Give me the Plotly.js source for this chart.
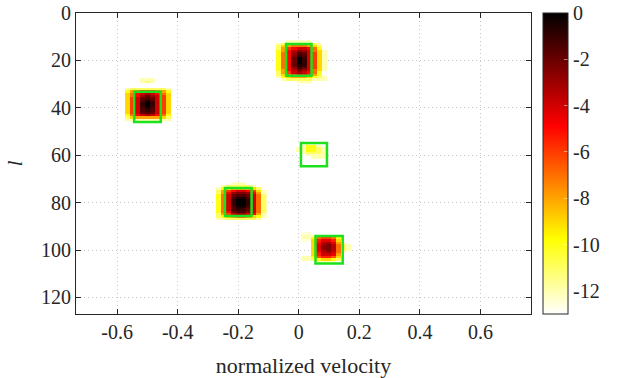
<!DOCTYPE html>
<html>
<head>
<meta charset="utf-8">
<script src="https://cdn.plot.ly/plotly-3.0.1.min.js"></script>
<style>html,body{margin:0;padding:0;background:#fff;}#chart{width:617px;height:378px;}</style>
</head>
<body>
<div id="chart"></div>
<script>
const NA = null;
// velocity bin width of the image
const dx = 1 / 60;
// blob centres (normalized velocity), first row (range bin l), first column offset
const blobX = [0, -0.5, 0.05, -0.2, 0.1];
const blobRow0 = [12, 28, 55, 72, 92];
const blobCol0 = [-5, -5, -4, -5, -5];

// image values in dB, rows = l, columns = velocity bins
const blob1 = [
  [NA,NA,-13,-12,-12,-12,-12,-12,-13,NA,NA],
  [NA,-12,-11,-10,-10,-10,-10,-10,-11,-12,NA],
  [NA,-11,-9,-8,-7,-7,-7,-8,-9,-11,NA],
  [NA,-11,-8,-6,-5,-4,-4,-5,-7,-10,-13],
  [NA,-10,-8,-5,-3.5,-2.5,-3,-4,-7,-9,-12],
  [NA,-10,-7,-5,-3,-1.5,-2,-4,-6,-9,-12],
  [NA,-10,-7,-5,-2.5,-1,-1.5,-4,-6,-9,-12],
  [NA,-10,-7,-5,-2,0,-1,-4,-6,-9,-12],
  [NA,-10,-7,-5,-2,0,-1,-4,-6,-9,-12],
  [NA,-10,-7,-5,-2,0,-1,-4,-6,-9,-12],
  [NA,-10,-7,-5,-2,-0.5,-1,-4,-6,-9,-12],
  [NA,-10,-7,-5,-3,-1,-2,-4,-6,-9,-12],
  [NA,-10,-8,-5,-3.5,-2,-3,-4,-7,-9,-12],
  [NA,-11,-8,-6,-4,-3,-4,-5,-7,-10,-13],
  [NA,-11,-9,-7,-6,-5,-5,-6,-8,-10,-13],
  [NA,-12,-10,-9,-8,-8,-8,-9,-10,-11,-12],
  [NA,-13,-12,-11,-11,-11,-11,-11,-12,-12,-12],
  [NA,NA,-13,-13,-13,-12,-12,-12,-13,-13,NA]
];
const blob2 = [
  [NA,NA,NA,NA,-12,-12,-12,NA,NA,NA,NA],
  [NA,NA,NA,NA,-12,-11,-12,NA,NA,NA,NA],
  [NA,NA,NA,NA,NA,NA,NA,NA,NA,NA,NA],
  [NA,NA,NA,NA,NA,NA,NA,NA,NA,NA,NA],
  [NA,-12,-11,-11,-11,-11,-11,-11,-11,-12,NA],
  [NA,-10,-8,-7,-6,-6,-6,-7,-8,-10,NA],
  [NA,-9,-7,-5,-4,-3,-4,-5,-7,-9,-13],
  [-13,-9,-7,-5,-3,-2,-3,-4,-6,-9,-13],
  [-13,-9,-6,-4,-2,-1.5,-2,-4,-6,-9,-13],
  [-13,-9,-6,-4,-1.5,-0.5,-1.5,-4,-6,-9,-13],
  [-13,-9,-6,-4,-1,0,-1,-4,-6,-9,-13],
  [-13,-9,-6,-4,-1,0,-1,-4,-6,-9,-13],
  [-13,-9,-6,-4,-1.5,-0.5,-1.5,-4,-6,-9,-13],
  [-13,-9,-6,-4,-1.5,-1,-1.5,-4,-6,-9,-13],
  [-13,-9,-6,-4,-2,-1.5,-2,-4,-6,-9,-13],
  [-13,-10,-7,-5,-4,-3,-4,-5,-7,-10,-13],
  [NA,-11,-9,-8,-8,-8,-8,-8,-9,-11,NA],
  [NA,-12,-12,-12,-12,-12,-12,-12,-12,-12,NA]
];
const blob3 = [
  [NA,NA,-13,-12,-12,NA,NA],
  [-13,-13,-12,-10,-10,-12,NA],
  [-13,-12,-12,-10,-10,-11,-12],
  [-13,-12,-12,-10,-10,-11,-12],
  [-13,-13,-12,-11,-11,-11,-12],
  [NA,NA,-13,-12,-12,-12,-12],
  [NA,NA,NA,-13,-12,-12,-12],
  [NA,NA,NA,NA,-13,-13,-13]
];
const blob4 = [
  [NA,NA,NA,-13,-12,-12,-12,-13,NA,NA,NA],
  [NA,-13,-12,-11,-11,-11,-11,-11,-12,-13,NA],
  [NA,-12,-10,-9,-8,-8,-8,-8,-9,-11,-13],
  [NA,-11,-8,-6,-5,-4,-4,-5,-6,-9,-12],
  [NA,-11,-8,-5,-3,-2.5,-2.5,-3,-5,-8,-12],
  [NA,-10,-7,-4,-2,-1.5,-1.5,-2,-4,-7,-11],
  [NA,-10,-7,-4,-1.5,-0.5,-0.5,-1.5,-4,-7,-11],
  [NA,-10,-7,-4,-1,0,0,-1,-4,-7,-11],
  [NA,-10,-7,-4,-1,0,0,-1,-4,-7,-11],
  [NA,-10,-7,-4,-1,0,0,-1,-4,-7,-11],
  [NA,-10,-7,-4,-1.5,-0.5,-0.5,-1.5,-4,-7,-11],
  [NA,-10,-7,-4,-1.5,-1,-1,-2,-4,-7,-11],
  [NA,-10,-7,-5,-2,-1.5,-1.5,-2.5,-4,-7,-11],
  [NA,-11,-8,-6,-4,-3,-3,-4,-5,-8,-12],
  [NA,-11,-10,-9,-8,-7,-7,-8,-9,-10,-12],
  [NA,-12,-12,-11,-11,-11,-11,-11,-11,-12,-13],
  [NA,NA,-13,-13,-13,-13,-13,-13,-13,NA,NA]
];
const blob5 = [
  [NA,NA,NA,NA,NA,NA,NA,NA,NA,NA],
  [-12.5,-12.5,NA,NA,NA,NA,NA,NA,NA,NA],
  [-12,-12,-12,-11,-11,-11,-12,-13,NA,NA],
  [-12,-12,-10,-7,-6,-6,-7,-10,-13,NA],
  [-12.5,-12.5,-9,-5.5,-4.5,-4.5,-5.5,-9,-13,NA],
  [NA,NA,-9,-5,-3.5,-3,-4.5,-8,-12,NA],
  [NA,NA,-9,-4.5,-3,-2.5,-3.5,-7,-11,-12],
  [NA,NA,-9,-4.5,-2.5,-2.5,-3.5,-7,-11,-12],
  [NA,NA,-9,-4.5,-3,-2.5,-3.5,-7,-11,-12],
  [NA,NA,-9,-5,-3.5,-3,-4,-7,-12,-13],
  [NA,NA,-9,-5.5,-4,-4,-4.5,-8,-13,NA],
  [-12,-12,-10,-6.5,-5.5,-5.5,-6.5,-9,NA,NA],
  [-12,-12,-11,-10,-9,-9,-10,-11,NA,NA],
  [NA,NA,-13,-12,-12,-12,-12,-13,NA,NA]
];
const blobs = [blob1, blob2, blob3, blob4, blob5];

// green target boxes
const boxX = [0, -0.5, 0.05, -0.2, 0.1];
const boxY = [19.75, 39.6, 59.8, 79.7, 99.9];
const boxHalfW = [0.042, 0.044, 0.043, 0.044, 0.045];
const boxHalfH = [6.7, 6.4, 4.9, 5.9, 5.8];

const xTicks = [-0.6, -0.4, -0.2, 0, 0.2, 0.4, 0.6];
const yTicks = [0, 20, 40, 60, 80, 100, 120];
const cTicks = [0, -2, -4, -6, -8, -10, -12];

const traces = blobs.map((m, b) => {
  const xs = m[0].map((v, j) => blobX[b] + (blobCol0[b] + j) * dx);
  const ys = m.map((r, i) => blobRow0[b] + i);
  return {
    type: 'heatmap', z: m, x: xs, y: ys, coloraxis: 'coloraxis',
    zsmooth: false, hoverinfo: 'skip', xgap: 0, ygap: 0
  };
});

const shapes = boxX.map((bx, i) => ({
  type: 'rect', xref: 'x', yref: 'y',
  x0: bx - boxHalfW[i], x1: bx + boxHalfW[i],
  y0: boxY[i] - boxHalfH[i], y1: boxY[i] + boxHalfH[i],
  line: {color: 'rgb(30,225,30)', width: 2.5}
}));

const FAM = 'Liberation Serif';
const mkFont = (s) => ({family: FAM, size: s, color: '#262626'});
const mkAxis = () => ({
  showline: true, linecolor: '#262626', linewidth: 1, mirror: 'ticks',
  ticks: 'inside', ticklen: 5, tickcolor: '#262626', tickwidth: 1,
  showgrid: true, gridcolor: '#c8c8c8', griddash: '1px,3px', gridwidth: 1,
  zeroline: false, layer: 'above traces', tickfont: mkFont(20)
});

const layout = {
  width: 617, height: 378,
  margin: {l: 76, r: 82, t: 13, b: 64, pad: 0},
  paper_bgcolor: '#fff', plot_bgcolor: '#fff',
  font: mkFont(20),
  showlegend: false,
  xaxis: Object.assign(mkAxis(), {
    range: [-0.736, 0.767], tickvals: xTicks, ticktext: xTicks.map(String),
    title: {text: 'normalized velocity', font: mkFont(22)}
  }),
  yaxis: Object.assign(mkAxis(), {
    range: [127, 0], tickvals: yTicks, ticktext: yTicks.map(String),
    title: {text: '<i>l</i>', font: mkFont(22)}
  }),
  coloraxis: {
    cmin: -13, cmax: 0,
    colorscale: [[0, 'rgb(255,255,255)'], [0.25, 'rgb(255,255,0)'], [0.625, 'rgb(255,0,0)'], [1, 'rgb(0,0,0)']],
    colorbar: {
      x: 1.026, xanchor: 'left', xpad: 0, y: 0.5, yanchor: 'middle', ypad: 0,
      len: 1, lenmode: 'fraction', thickness: 25, thicknessmode: 'pixels',
      outlinecolor: '#262626', outlinewidth: 1,
      ticks: 'inside', ticklen: 4, tickcolor: 'rgba(255,255,255,0.5)',
      tickvals: cTicks, ticktext: cTicks.map(v => v === 0 ? '0' : '-' + Math.abs(v)),
      tickfont: mkFont(20)
    }
  },
  shapes: shapes
};

Plotly.newPlot('chart', traces, layout, {displayModeBar: false, staticPlot: true});
</script>
</body>
</html>
